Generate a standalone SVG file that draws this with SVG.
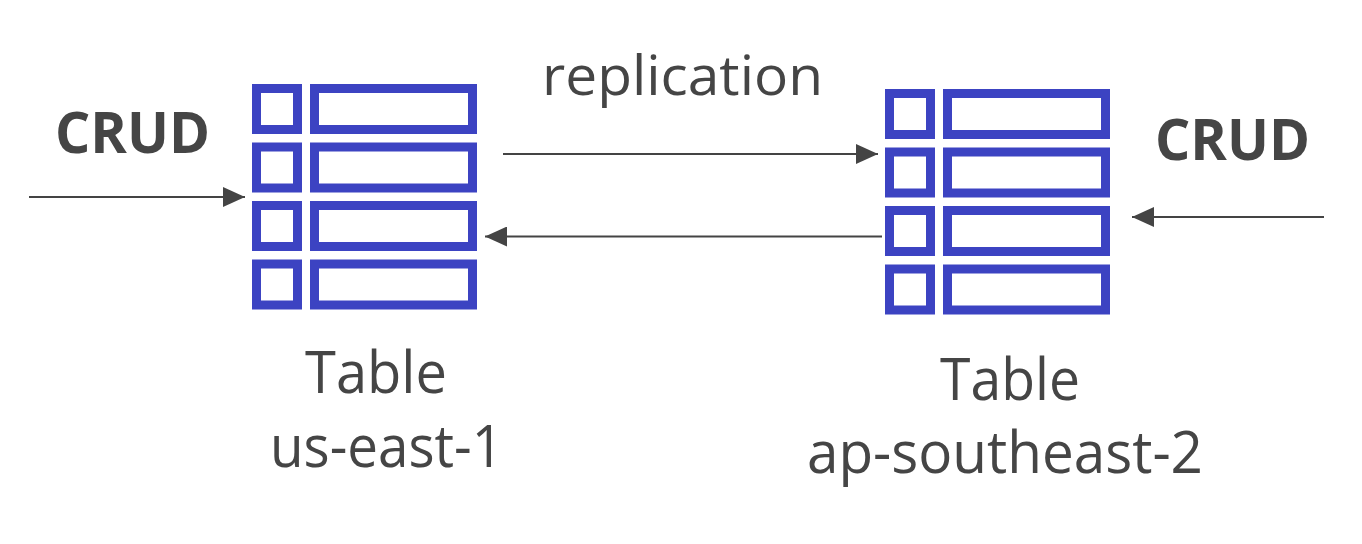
<svg xmlns="http://www.w3.org/2000/svg" width="1362" height="544" viewBox="0 0 1362 544">
<style>
.cell{fill:#fff;stroke:#3c43c2;stroke-width:9}
.conn{stroke:#444;stroke-width:2;fill:none}
.lbl{font-family:"Open Sans","Liberation Sans",sans-serif;fill:#454545}
.bold{font-weight:bold}
</style>
<defs>
<marker id="ah" markerWidth="22" markerHeight="20" refX="22" refY="10" orient="auto" markerUnits="userSpaceOnUse">
<path d="M0,0 L22,10 L0,20 Z" fill="#444"/>
</marker>
<g id="tbl">
<rect class="cell" x="256.5" y="88.5" width="41" height="41"/>
<rect class="cell" x="314.5" y="88.5" width="158" height="41"/>
<rect class="cell" x="256.5" y="147" width="41" height="41"/>
<rect class="cell" x="314.5" y="147" width="158" height="41"/>
<rect class="cell" x="256.5" y="205.5" width="41" height="41"/>
<rect class="cell" x="314.5" y="205.5" width="158" height="41"/>
<rect class="cell" x="256.5" y="264" width="41" height="41"/>
<rect class="cell" x="314.5" y="264" width="158" height="41"/>
</g>
</defs>
<rect width="1362" height="544" fill="#fff"/>
<g id="table-us-east-1">
<use href="#tbl"/>
<text class="lbl" x="305" y="393" font-size="58" textLength="142" lengthAdjust="spacingAndGlyphs">Table</text>
<text class="lbl" x="270" y="466.5" font-size="58" textLength="233" lengthAdjust="spacingAndGlyphs">us-east-1</text>
</g>
<g id="table-ap-southeast-2">
<use href="#tbl" transform="translate(633,5)"/>
<text class="lbl" x="940" y="400" font-size="58" textLength="140" lengthAdjust="spacingAndGlyphs">Table</text>
<text class="lbl" x="807" y="473" font-size="58" textLength="396" lengthAdjust="spacingAndGlyphs">ap-southeast-2</text>
</g>
<g id="crud-left">
<text class="lbl bold" x="55" y="153" font-size="57" textLength="155" lengthAdjust="spacingAndGlyphs">CRUD</text>
</g>
<g id="crud-right">
<text class="lbl bold" x="1155" y="160" font-size="57" textLength="155" lengthAdjust="spacingAndGlyphs">CRUD</text>
</g>
<g id="replication-label">
<text class="lbl" x="542" y="95" font-size="54" textLength="281" lengthAdjust="spacingAndGlyphs">replication</text>
</g>
<g id="connectors">
<line class="conn" x1="29" y1="197" x2="245" y2="197" marker-end="url(#ah)"/>
<line class="conn" x1="503" y1="154" x2="878" y2="154" marker-end="url(#ah)"/>
<line class="conn" x1="882" y1="236.5" x2="485" y2="236.5" marker-end="url(#ah)"/>
<line class="conn" x1="1324" y1="217" x2="1132" y2="217" marker-end="url(#ah)"/>
</g>
</svg>
